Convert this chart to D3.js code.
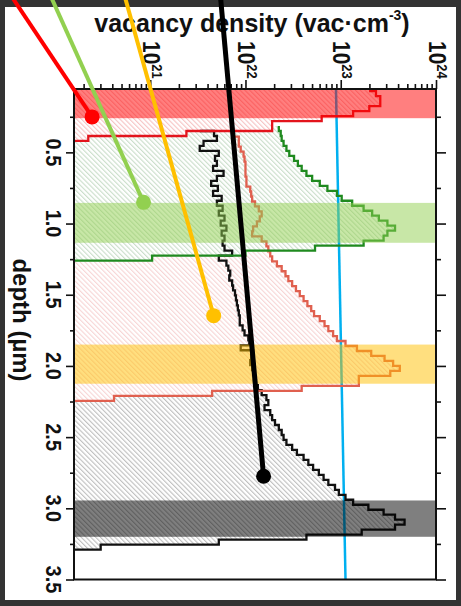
<!DOCTYPE html>
<html><head><meta charset="utf-8">
<script src="https://cdn.jsdelivr.net/npm/d3@7"></script>
<style>
html,body{margin:0;padding:0;background:#333;}
svg{display:block;}
text{font-family:"Liberation Sans",Arial,sans-serif;font-weight:bold;fill:#111;}
</style></head><body>
<svg id="c" width="461" height="606"></svg>
<script>
// ---------- data ----------
const depthBin = 0.035;               // µm per histogram bin
const depthDomain = [0.055, 3.5];     // µm
const densityDomain = [Math.pow(10,20.2), 1e24]; // vac·cm^-3
const depthMajor = [0.5, 1.0, 1.5, 2.0, 2.5, 3.0, 3.5];
const depthMinor = [0.25, 0.75, 1.25, 1.75, 2.25, 2.75, 3.25];
const densityMajor = [1e21, 1e22, 1e23, 1e24];
const depthTickLabels = ["0.5","1.0","1.5","2.0","2.5","3.0","3.5"];
const densityExponents = ["21","22","23","24"];

// log10(vacancy density) per depth bin
const redStart = 0.035;
const redLog10 = [23.31,23.37,23.415,23.415,23.30,23.13,22.80,22.28,22.28,21.38,20.35];

const greenStart = 0.315;
const greenLog10 = [22.35,22.37,22.38,22.40,22.43,22.46,22.51,22.55,22.59,22.64,22.70,22.78,22.86,22.96,23.01,
  23.12,23.24,23.33,23.40,23.49,23.57,23.49,23.45,23.24,22.73,22.00,21.02];

const salmonStart = 0.39, salmonLead = 21.87;
const salmonLog10 = [21.93,21.93,21.95,21.98,21.99,22.00,22.00,22.00,22.01,22.01,
  22.05,22.06,22.07,22.10,22.14,22.17,22.15,22.12,22.08,22.07,
  22.17,22.22,22.24,22.26,22.28,22.33,22.38,22.42,22.45,22.49,
  22.53,22.57,22.61,22.65,22.69,22.72,22.78,22.83,22.87,22.92,
  22.96,23.05,23.17,23.32,23.46,23.55,23.62,23.52,23.19,23.19,
  22.59,21.65,20.62];

const blackStart = 0.35, blackLead = 21.52;
const blackLog10 = [21.67,21.70,21.56,21.52,21.72,21.68,21.70,21.66,21.77,21.70,
  21.64,21.71,21.66,21.75,21.70,21.76,21.72,21.78,21.74,21.80,
  21.75,21.78,21.76,21.78,21.86,21.72,21.80,21.82,21.84,21.83,
  21.86,21.87,21.89,21.90,21.91,21.92,21.93,21.94,21.94,21.97,
  21.99,22.03,22.04,21.95,22.08,22.06,22.05,22.07,22.09,22.09,
  22.11,22.13,22.17,22.22,22.24,22.20,22.26,22.28,22.31,22.35,
  22.38,22.40,22.43,22.49,22.54,22.61,22.66,22.71,22.77,22.82,
  22.87,22.94,22.98,23.05,23.13,23.29,23.45,23.57,23.67,23.57,
  23.22,22.64,21.72,20.48];

// highlighted depth windows [top, bottom] in µm
const bandNames = ["red","green","orange","gray"];
const bandDepths = [[0.055,0.26],[0.855,1.135],[1.85,2.125],[2.945,3.2]];

// reference line: [depth, log10 density]
const refLine = [[0.055,22.95],[3.5,23.05]];

// pointer annotations: start [depth, log10] -> dot [depth, log10]
const pointerStarts = [[-0.65,19.49],[-0.65,19.92],[-0.65,20.71],[-0.65,21.73]];
const pointerDots   = [[0.251,20.39],[0.851,20.93],[1.647,21.666],[2.775,22.19]];

// ---------- styles ----------
const C = {
  red:"#ff0000", green:"#92d050", orange:"#ffc000", gray:"#000000",
  redLine:"#e3141c", greenLine:"#1f8a1f", salmonLine:"#e0604f", blackLine:"#111",
  redHatch:"#f5bcbc", greenHatch:"#c4dac4", salmonHatch:"#f7d0d0", grayHatch:"#b8b8b8",
  blue:"#00b0f0"
};

const W = 461, H = 606;
const P = {left:74, right:436, top:89, bottom:579.5};

const svg = d3.select("#c");
svg.append("rect").attr("x",5).attr("y",7).attr("width",451).attr("height",593).attr("fill","#fff");

const x = d3.scaleLog().domain(densityDomain).range([P.left, P.right]);
const y = d3.scaleLinear().domain(depthDomain).range([P.top, P.bottom]);
const X = e => x(Math.pow(10, e));

const defs = svg.append("defs");
defs.append("clipPath").attr("id","plotclip").append("rect")
  .attr("x",P.left).attr("y",P.top).attr("width",P.right-P.left).attr("height",P.bottom-P.top);
function hatch(id, color){
  const p = defs.append("pattern").attr("id",id).attr("patternUnits","userSpaceOnUse")
    .attr("width",3.4).attr("height",3.4).attr("patternTransform","rotate(-45)");
  p.append("rect").attr("width",3.4).attr("height",3.4).attr("fill","#fff");
  p.append("line").attr("x1",0.6).attr("y1",0).attr("x2",0.6).attr("y2",3.4)
    .attr("stroke",color).attr("stroke-width",1);
}
hatch("hRed",C.redHatch); hatch("hGreen",C.greenHatch); hatch("hSalmon",C.salmonHatch); hatch("hGray",C.grayHatch);

function stepPoints(start, vals, lead){
  const pts = [];
  if (lead != null) pts.push([lead, start]);
  vals.forEach((v,i)=>{ pts.push([v, start+i*depthBin]); pts.push([v, start+(i+1)*depthBin]); });
  return pts;
}
const line = d3.line().x(d=>X(d[0])).y(d=>y(d[1]));
const xmin = Math.log10(densityDomain[0]);

const profiles = [
  {start:blackStart, vals:blackLog10, lead:blackLead, hatch:"hGray", stroke:C.blackLine},
  {start:salmonStart, vals:salmonLog10, lead:salmonLead, hatch:"hSalmon", stroke:C.salmonLine},
  {start:greenStart, vals:greenLog10, lead:null, hatch:"hGreen", stroke:C.greenLine},
  {start:redStart, vals:redLog10, lead:null, hatch:"hRed", stroke:C.redLine}
];

const plot = svg.append("g").attr("clip-path","url(#plotclip)");
profiles.forEach(p=>{
  const pts = stepPoints(p.start, p.vals, null);
  const poly = [[xmin, p.start]].concat(pts).concat([[xmin, p.start + p.vals.length*depthBin]]);
  plot.append("path").attr("d", line(poly)+"Z").attr("fill","url(#"+p.hatch+")").attr("stroke","none");
});
plot.append("path").attr("d", line(refLine.map(d=>[d[1],d[0]])))
  .attr("stroke",C.blue).attr("stroke-width",2.5).attr("fill","none");
profiles.forEach(p=>{
  const pts = stepPoints(p.start, p.vals, p.lead);
  pts.push([xmin, p.start + p.vals.length*depthBin]);
  plot.append("path").attr("d", line(pts)).attr("fill","none")
    .attr("stroke",p.stroke).attr("stroke-width",2.3);
});
const bandColors = [C.red, C.green, C.orange, C.gray];
bandDepths.forEach((b,i)=>{
  plot.append("rect").attr("x",P.left).attr("width",P.right-P.left)
    .attr("y",y(b[0])).attr("height",y(b[1])-y(b[0]))
    .attr("fill",bandColors[i]).attr("fill-opacity",0.5);
});

// ---------- axes ----------
const minorDensity = [];
for (let e=20;e<24;e++) for (let m=2;m<=9;m++){ const v=m*Math.pow(10,e); if (v>=densityDomain[0]) minorDensity.push(v); }
function styleAxis(g){ g.select(".domain").remove(); g.selectAll("line").attr("stroke","#111").attr("stroke-width",1.6); g.selectAll("text").remove(); }
svg.append("g").attr("transform",`translate(0,${P.top})`).call(d3.axisTop(x).tickValues(minorDensity).tickSize(5)).call(styleAxis);
svg.append("g").attr("transform",`translate(0,${P.top})`).call(d3.axisTop(x).tickValues(densityMajor).tickSize(9)).call(styleAxis);
svg.append("g").attr("transform",`translate(${P.left},0)`).call(d3.axisLeft(y).tickValues(depthMinor).tickSize(4)).call(styleAxis);
svg.append("g").attr("transform",`translate(${P.left},0)`).call(d3.axisLeft(y).tickValues(depthMajor).tickSize(8)).call(styleAxis);
svg.append("g").attr("transform",`translate(${P.right},0)`).call(d3.axisRight(y).tickValues(depthMinor).tickSize(5)).call(styleAxis);
svg.append("g").attr("transform",`translate(${P.right},0)`).call(d3.axisRight(y).tickValues(depthMajor).tickSize(10)).call(styleAxis);
svg.append("rect").attr("x",P.left).attr("y",P.top).attr("width",P.right-P.left).attr("height",P.bottom-P.top)
  .attr("fill","none").attr("stroke","#111").attr("stroke-width",2);

// density tick labels (rotated)
densityMajor.forEach((v,i)=>{
  const t = svg.append("text").attr("transform",`translate(${x(v)-7.5},41) rotate(90) scale(1,1.1)`)
    .attr("font-size",21);
  t.append("tspan").text("10");
  t.append("tspan").attr("dy",-8).attr("font-size",13).text(densityExponents[i]);
});
// depth tick labels
depthMajor.forEach((d,i)=>{
  svg.append("text").attr("transform",`translate(46,${y(d)}) rotate(90) scale(1,1.12)`)
    .attr("text-anchor","middle").attr("font-size",20).text(depthTickLabels[i]);
});
// titles
svg.append("text").attr("transform","translate(13,320) rotate(90)").attr("text-anchor","middle")
  .attr("font-size",24).text("depth (µm)");
const tt = svg.append("text").attr("x",252).attr("y",32).attr("text-anchor","middle").attr("font-size",25);
tt.append("tspan").text("vacancy density (vac·cm");
tt.append("tspan").attr("dy",-12).attr("font-size",14).text("-3");
tt.append("tspan").attr("dy",12).text(")");

// ---------- pointers ----------
const pColors = [C.red, C.green, C.orange, C.gray];
pointerDots.forEach((d,i)=>{
  const s = pointerStarts[i];
  svg.append("line").attr("x1",X(s[1])).attr("y1",y(s[0])).attr("x2",X(d[1])).attr("y2",y(d[0]))
    .attr("stroke",pColors[i]).attr("stroke-width",i===3?5:4);
  svg.append("circle").attr("cx",X(d[1])).attr("cy",y(d[0])).attr("r",7.5).attr("fill",pColors[i]);
});
</script>
</body></html>
